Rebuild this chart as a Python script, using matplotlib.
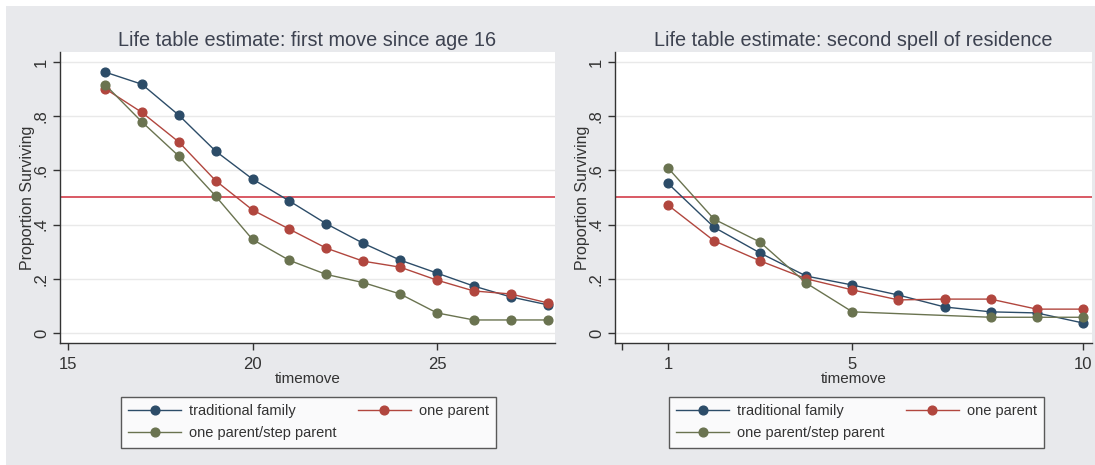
import matplotlib.pyplot as plt
from matplotlib.patches import Rectangle
from matplotlib.lines import Line2D

plt.rcParams['font.family'] = ['Liberation Sans', 'DejaVu Sans']

# first move since age 16
age = [16, 17, 18, 19, 20, 21, 22, 23, 24, 25, 26, 27, 28]
first_traditional = [0.963, 0.918, 0.804, 0.671, 0.568, 0.487, 0.403, 0.331, 0.269, 0.221, 0.173, 0.133, 0.104]
first_one_parent = [0.902, 0.814, 0.705, 0.562, 0.454, 0.383, 0.313, 0.265, 0.243, 0.195, 0.155, 0.144, 0.111]
first_step_parent = [0.917, 0.779, 0.653, 0.505, 0.345, 0.268, 0.216, 0.186, 0.144, 0.074, 0.048, 0.048, 0.048]

# second spell of residence
spell_traditional_x = [1, 2, 3, 4, 5, 6, 7, 8, 9, 10]
spell_traditional = [0.552, 0.390, 0.295, 0.210, 0.177, 0.140, 0.096, 0.078, 0.074, 0.037]
spell_one_parent_x = [1, 2, 3, 4, 5, 6, 7, 8, 9, 10]
spell_one_parent = [0.472, 0.340, 0.266, 0.200, 0.159, 0.122, 0.125, 0.125, 0.088, 0.088]
spell_step_parent_x = [1, 2, 3, 4, 5, 8, 9, 10]
spell_step_parent = [0.609, 0.420, 0.335, 0.184, 0.078, 0.058, 0.058, 0.058]

median_line = 0.5
yticks = [0, 0.2, 0.4, 0.6, 0.8, 1]
ytick_labels = ['0', '.2', '.4', '.6', '.8', '1']
labels = ['traditional family', 'one parent', 'one parent/step parent']

c_blue = '#2c4c68'
c_red = '#b1463e'
c_green = '#6a7350'
c_ref = '#d02c3a'
c_text = '#333333'
c_bg = '#e8e9ec'

W, H = 1095, 465
fig = plt.figure(figsize=(W / 100, H / 100), dpi=100)
fig.patches.append(Rectangle((6 / W, 0), 1 - 6 / W, 1 - 6 / H, transform=fig.transFigure,
                             facecolor=c_bg, edgecolor='none', zorder=-10))


def style_axes(ax, title):
    ax.set_facecolor('white')
    for s in ['top', 'right']:
        ax.spines[s].set_visible(False)
    for s in ['left', 'bottom']:
        ax.spines[s].set_color('#333333')
        ax.spines[s].set_linewidth(1.0)
    ax.set_ylim(-0.037, 1.037)
    ax.set_yticks(yticks)
    ax.set_yticklabels(ytick_labels, rotation=90, va='center')
    ax.grid(axis='y', color='#e9e9e9', linewidth=1.0)
    ax.set_axisbelow(True)
    ax.tick_params(colors='#333333', labelcolor=c_text, labelsize=12, length=5, width=1, pad=3)
    ax.tick_params(axis='x', pad=5)
    ax.set_ylabel('Proportion Surviving', color=c_text, fontsize=11.5, labelpad=-1)
    ax.set_xlabel('timemove', color=c_text, fontsize=11, labelpad=0)
    ax.set_title(title, color='#3d4250', fontsize=14.3, pad=4)
    ax.axhline(median_line, color=c_ref, linewidth=1.1, zorder=1)


def series(ax, x, y, color):
    ax.plot(x, y, color=color, linewidth=1.0, marker='o', markersize=6.3,
            markeredgecolor=color, zorder=3)


def add_legend(center_x):
    handles = [Line2D([], [], color=c, linewidth=1.0, marker='o', markersize=6.3)
               for c in (c_blue, c_red, c_green)]
    # two columns filled row by row
    order = [0, 2, 1]
    leg = fig.legend([handles[i] for i in order], [labels[i] for i in order],
                     loc='upper center', bbox_to_anchor=(center_x, 1 - 397 / H),
                     bbox_transform=fig.transFigure, ncol=2, fontsize=10.5,
                     frameon=True, fancybox=False, handlelength=3.6,
                     columnspacing=1.5, labelspacing=0.55, borderpad=0.5,
                     borderaxespad=0, handletextpad=0.55)
    leg.get_frame().set_edgecolor('#333333')
    leg.get_frame().set_linewidth(1.0)
    for t in leg.get_texts():
        t.set_color(c_text)


ax1 = fig.add_axes([60 / W, 1 - 343 / H, 495 / W, 291 / H])
style_axes(ax1, 'Life table estimate: first move since age 16')
series(ax1, age, first_traditional, c_blue)
series(ax1, age, first_one_parent, c_red)
series(ax1, age, first_step_parent, c_green)
ax1.set_xlim(14.78, 28.2)
ax1.set_xticks([15, 20, 25])
add_legend(308.5 / W)

ax2 = fig.add_axes([615 / W, 1 - 343 / H, 477 / W, 291 / H])
style_axes(ax2, 'Life table estimate: second spell of residence')
series(ax2, spell_traditional_x, spell_traditional, c_blue)
series(ax2, spell_one_parent_x, spell_one_parent, c_red)
series(ax2, spell_step_parent_x, spell_step_parent, c_green)
ax2.set_xlim(-0.15, 10.2)
ax2.set_xticks([0, 1, 5, 10])
ax2.set_xticklabels(['', '1', '5', '10'])
add_legend(856.5 / W)

fig.savefig('out.png', dpi=100)
